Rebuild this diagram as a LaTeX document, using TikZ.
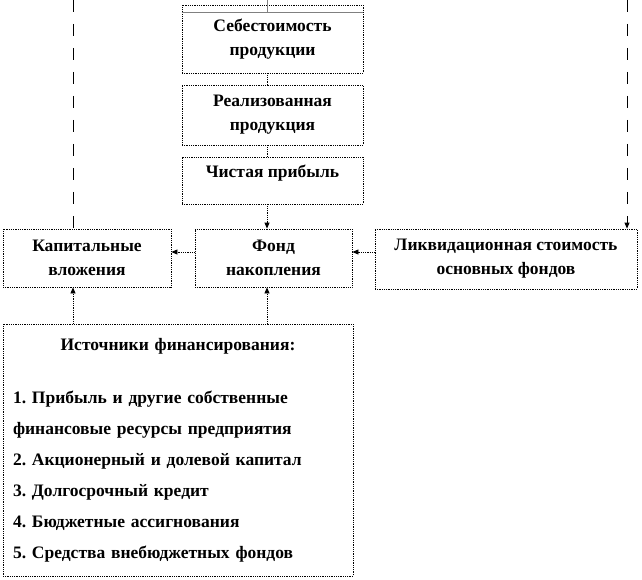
\documentclass[tikz,border=0pt]{standalone}
\usepackage{fontspec}
\setmainfont{Liberation Serif}
\usetikzlibrary{arrows.meta,calc}
\frenchspacing

\tikzset{
  blok/.style={draw, densely dotted, line width=0.8pt, align=center,
    font=\bfseries\fontsize{17.5}{24}\selectfont, inner sep=0pt},
  strelka/.style={densely dotted, line width=0.8pt, -{Triangle[length=6pt,width=5pt]}},
  linija/.style={densely dotted, line width=0.8pt},
  punktir/.style={dash pattern=on 12pt off 12pt, line width=0.8pt},
}

\begin{document}
\begin{tikzpicture}[x=1pt,y=-1pt]
    \useasboundingbox (0,0) rectangle (642,580);
    % Опорные точки
    \coordinate (lx) at (73,0);
    \coordinate (ax) at (267,0);
    \coordinate (rx) at (627,0);
    \coordinate (hy) at (0,252);
    % Блоки
    \node[blok, minimum width=181pt, minimum height=68pt] (S) at (272.5,39) {Себестоимость\\продукции};
    \node[blok, minimum width=181pt, minimum height=60pt] (R) at (272.5,115) {Реализованная\\продукция};
    \node[blok, minimum width=181pt, text height=21pt, text depth=26pt] (Ch) at (272.5,180.5) {Чистая прибыль};
    \node[blok, minimum width=168pt, minimum height=58pt] (K) at (87,258) {Капитальные\\вложения};
    \node[blok, minimum width=157pt, minimum height=58pt] (F) at (273.5,258) {Фонд\\накопления};
    \node[blok, minimum width=262pt, minimum height=60pt] (L) at (506,259) {Ликвидационная стоимость\\основных фондов};
    \node[blok, minimum width=350pt, minimum height=252pt, text width=330pt, align=left,
      font=\bfseries\fontsize{17.5}{31}\selectfont] (I) at (178,450)
      {\makebox[330pt]{Источники финансирования:}\\[22pt]
       1. Прибыль и другие собственные\\
       финансовые ресурсы предприятия\\
       2. Акционерный и долевой капитал\\
       3. Долгосрочный кредит\\
       4. Бюджетные ассигнования\\
       5. Средства внебюджетных фондов};
    % Верхняя полоса
    \draw[gray, line width=0.8pt] ($(S.north west)+(0,8)$) -- ($(S.north east)+(0,8)$);
    \draw[gray, line width=0.8pt] (ax) -- ($(S.north -| ax)+(0,8)$);
    % Связи
    \draw[linija] (S.south -| ax) -- (R.north -| ax);
    \draw[linija] (R.south -| ax) -- (Ch.north -| ax);
    \draw[strelka] (Ch.south -| ax) -- (F.north -| ax);
    \draw[strelka] (F.west |- hy) -- (K.east |- hy);
    \draw[strelka] (L.west |- hy) -- (F.east |- hy);
    \draw[strelka] (I.north -| lx) -- (K.south -| lx);
    \draw[strelka] (I.north -| ax) -- (F.south -| ax);
    \draw[punktir] (lx) -- (K.north -| lx);
    \draw[punktir, -{Triangle[length=6pt,width=5pt]}] (rx) -- (L.north -| rx);
\end{tikzpicture}
\end{document}
